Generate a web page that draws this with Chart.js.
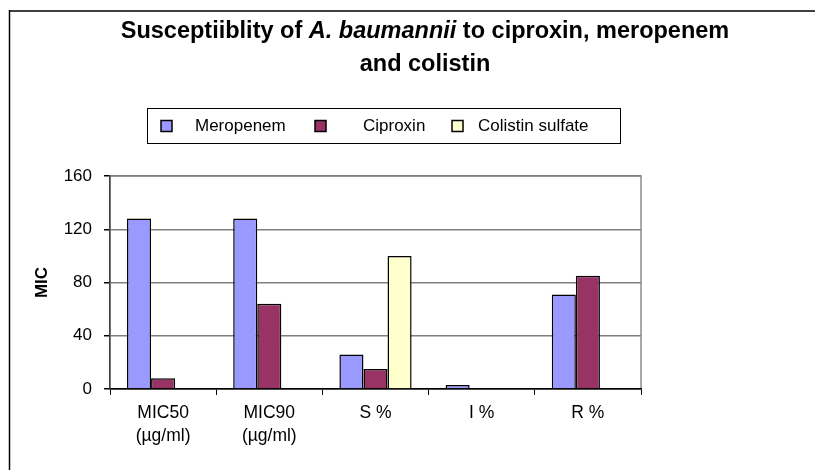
<!DOCTYPE html>
<html>
<head>
<meta charset="utf-8">
<script src="https://cdn.jsdelivr.net/npm/chart.js@4/dist/chart.umd.min.js"></script>
<style>
html,body{margin:0;padding:0;background:#fff;}
#wrap{width:815px;height:470px;position:relative;}
</style>
</head>
<body>
<div id="wrap"><canvas id="c" width="815" height="470"></canvas></div>
<script>
const categories = [["MIC50","(µg/ml)"],["MIC90","(µg/ml)"],"S %","I %","R %"];
const meropenem = [128, 128, 26, 3, 71];
const ciproxin = [8, 64, 15, null, 85];
const colistin = [null, null, 100, null, null];
const seriesNames = ["Meropenem","Ciproxin","Colistin sulfate"];
const yTicks = [0, 40, 80, 120, 160];

const FONT = "'Liberation Sans', Arial, sans-serif";

const framePlugin = {
  id: 'frame',
  beforeDraw(chart) {
    const ctx = chart.ctx;
    ctx.save();
    ctx.fillStyle = '#fff';
    ctx.fillRect(0, 0, chart.width, chart.height);
    ctx.strokeStyle = '#404040';
    ctx.lineWidth = 2;
    ctx.beginPath();
    ctx.moveTo(9, 11); ctx.lineTo(chart.width + 2, 11);
    ctx.stroke();
    ctx.strokeStyle = '#000';
    ctx.lineWidth = 1.5;
    ctx.beginPath();
    ctx.moveTo(9.5, 10); ctx.lineTo(9.5, chart.height + 2);
    ctx.stroke();
    const a = chart.chartArea;
    ctx.strokeStyle = '#8c8c8c';
    ctx.lineWidth = 1.5;
    ctx.strokeRect(a.left, a.top, a.right - a.left, a.bottom - a.top);
    ctx.restore();
  },
  afterDraw(chart) {
    const ctx = chart.ctx;
    ctx.save();
    const TF = "23.5px " + FONT;
    const parts = [
      {t: "Susceptiiblity of ", f: "bold " + TF},
      {t: "A. baumannii", f: "italic bold " + TF},
      {t: " to ciproxin, meropenem", f: "bold " + TF}
    ];
    let total = 0;
    parts.forEach(p => { ctx.font = p.f; p.w = ctx.measureText(p.t).width; total += p.w; });
    const cx = 425;
    let x = cx - total / 2;
    ctx.fillStyle = '#000';
    ctx.textBaseline = 'alphabetic';
    ctx.textAlign = 'left';
    parts.forEach(p => { ctx.font = p.f; ctx.fillText(p.t, x, 38); x += p.w; });
    ctx.font = "bold " + TF;
    ctx.textAlign = 'center';
    ctx.fillText("and colistin", cx, 71);

    const lg = {left: 147, top: 108, right: 620, bottom: 143};
    ctx.strokeStyle = '#000';
    ctx.lineWidth = 1;
    ctx.strokeRect(lg.left + 0.5, lg.top + 0.5, lg.right - lg.left, lg.bottom - lg.top);
    const markerX = [161, 315, 452];
    const textX = [195, 363, 478];
    ctx.font = "17px " + FONT;
    ctx.textAlign = 'left';
    ctx.textBaseline = 'middle';
    const cy = (lg.top + lg.bottom) / 2 + 0.5;
    chart.data.datasets.forEach((ds, i) => {
      ctx.fillStyle = ds.backgroundColor;
      ctx.fillRect(markerX[i], cy - 5.5, 11, 11);
      ctx.strokeStyle = '#000';
      ctx.lineWidth = 1.5;
      ctx.strokeRect(markerX[i], cy - 5.5, 11, 11);
      ctx.fillStyle = '#000';
      ctx.fillText(ds.label, textX[i], cy);
    });
    ctx.restore();
  }
};

new Chart(document.getElementById('c'), {
  type: 'bar',
  data: {
    labels: categories,
    datasets: [
      {label: seriesNames[0], data: meropenem, backgroundColor: '#9999FF', borderColor: '#000', borderWidth: 1.5},
      {label: seriesNames[1], data: ciproxin, backgroundColor: '#993366', borderColor: '#000', borderWidth: 1.5},
      {label: seriesNames[2], data: colistin, backgroundColor: '#FFFFCC', borderColor: '#000', borderWidth: 1.5}
    ]
  },
  options: {
    responsive: false,
    animation: false,
    devicePixelRatio: 1,
    categoryPercentage: 0.68,
    barPercentage: 1.0,
    layout: {padding: {top: 176, right: 174, left: 0, bottom: 0}},
    plugins: {
      legend: {display: false},
      title: {display: false},
      tooltip: {enabled: false}
    },
    scales: {
      x: {
        offset: true,
        grid: {display: true, drawOnChartArea: false, drawTicks: true, tickLength: 6, tickColor: '#000', offset: true},
        border: {display: true, color: '#000', width: 1.5},
        ticks: {color: '#000', font: {family: FONT, size: 17.5, lineHeight: 1.35}, padding: 6, maxRotation: 0, autoSkip: false},
        afterFit(scale) { scale.height = 81; }
      },
      y: {
        min: 0, max: 160,
        afterBuildTicks(scale) { scale.ticks = yTicks.map(v => ({value: v})); },
        grid: {color: '#808080', lineWidth: 1.5, tickLength: 6, tickColor: '#000'},
        border: {display: true, color: '#404040', width: 1.5},
        ticks: {color: '#000', font: {family: FONT, size: 17}, padding: 12},
        title: {display: true, text: 'MIC', color: '#000', font: {family: FONT, size: 17, weight: 'bold'}, padding: {top: 32, bottom: 0}},
        afterFit(scale) { scale.width = 110; }
      }
    }
  },
  plugins: [framePlugin]
});
</script>
</body>
</html>
